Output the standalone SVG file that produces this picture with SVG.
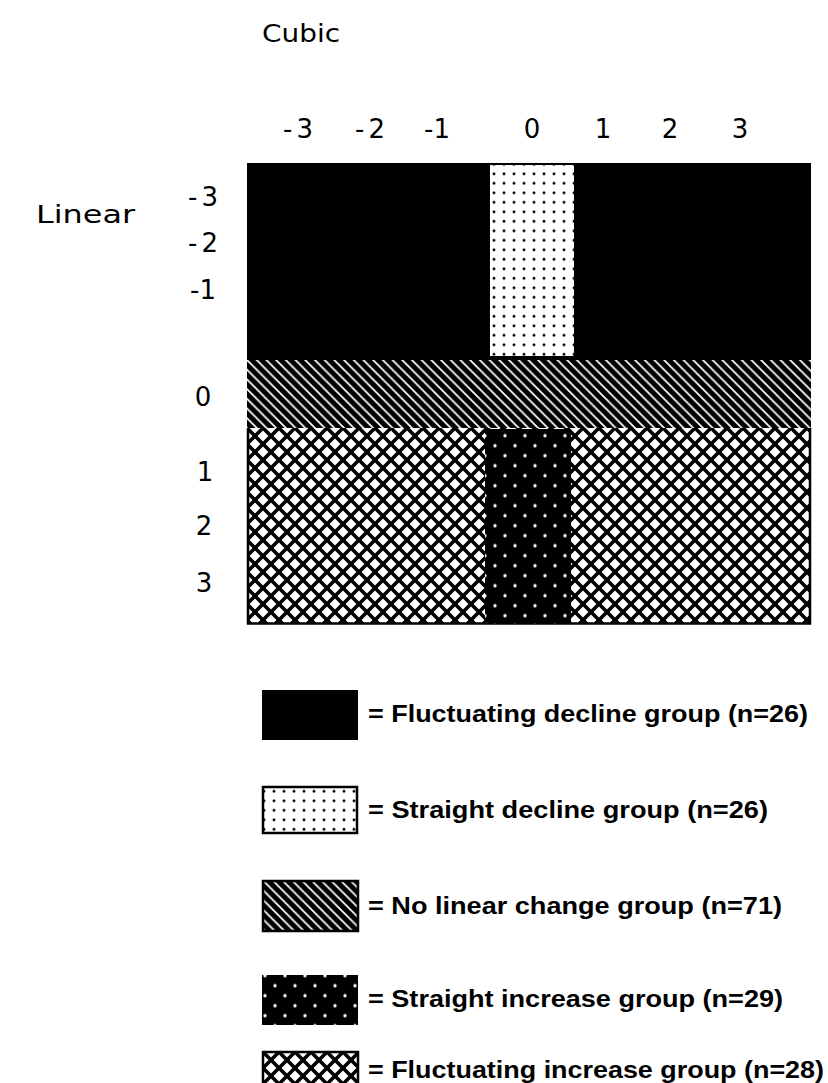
<svg xmlns="http://www.w3.org/2000/svg" width="828" height="1083" viewBox="0 0 828 1083">
  <style>
    .axis { font-family: "DejaVu Sans", "Liberation Sans", sans-serif; font-size: 25px; fill: #000; }
    .tick { font-family: "DejaVu Sans", "Liberation Sans", sans-serif; font-size: 26px; fill: #000; text-anchor: middle; }
    .key { font-family: "Liberation Sans", "DejaVu Sans", sans-serif; font-weight: bold; font-size: 23px; fill: #000; }
    .edge { fill: none; stroke: #000; stroke-width: 2.5; }
  </style>
  <defs>
    <!-- black dots on white -->
    <pattern id="dots" patternUnits="userSpaceOnUse" x="489" y="169" width="10" height="9.5">
      <rect width="10" height="9.5" fill="#fff"/>
      <circle cx="5" cy="4.75" r="1.5" fill="#000"/>
    </pattern>
    <!-- white dots on black, staggered -->
    <pattern id="wdots" patternUnits="userSpaceOnUse" x="490" y="430.7" width="20" height="20">
      <rect width="20" height="20" fill="#000"/>
      <circle cx="15" cy="5" r="1.7" fill="#fff"/>
      <circle cx="5" cy="15" r="1.7" fill="#fff"/>
    </pattern>
    <!-- thin white diagonals on black -->
    <pattern id="hatch" patternUnits="userSpaceOnUse" x="247" y="360" width="9.7" height="9.7">
      <rect width="9.7" height="9.7" fill="#000"/>
      <path d="M-4.85,-4.85 L14.55,14.55 M-9.7,0 L9.7,19.4 M0,-9.7 L19.4,9.7" stroke="#fff" stroke-width="1.7"/>
    </pattern>
    <!-- black diamond lattice on white -->
    <pattern id="cross" patternUnits="userSpaceOnUse" x="247" y="428" width="16" height="16">
      <rect width="16" height="16" fill="#fff"/>
      <path d="M-16,-16 L32,32 M-16,0 L16,32 M0,-16 L32,16 M-16,16 L16,-16 M0,32 L32,0 M-16,32 L32,-16" stroke="#000" stroke-width="3.6"/>
    </pattern>
  </defs>

  <rect width="828" height="1083" fill="#fff"/>

  <!-- axis titles -->
  <text class="axis" x="262" y="42" textLength="78" lengthAdjust="spacingAndGlyphs">Cubic</text>
  <text class="axis" x="36" y="223" textLength="99" lengthAdjust="spacingAndGlyphs">Linear</text>

  <!-- cubic ticks -->
  <g id="cubic-ticks">
    <text class="tick" x="298" y="138" textLength="30" lengthAdjust="spacing">-3</text>
    <text class="tick" x="370" y="138" textLength="30" lengthAdjust="spacing">-2</text>
    <text class="tick" x="437" y="138" textLength="26" lengthAdjust="spacing">-1</text>
    <text class="tick" x="532" y="138">0</text>
    <text class="tick" x="603" y="138">1</text>
    <text class="tick" x="670" y="138">2</text>
    <text class="tick" x="740" y="138">3</text>
  </g>

  <!-- linear ticks -->
  <g id="linear-ticks">
    <text class="tick" x="203" y="206" textLength="30" lengthAdjust="spacing">-3</text>
    <text class="tick" x="203" y="252" textLength="30" lengthAdjust="spacing">-2</text>
    <text class="tick" x="203" y="299" textLength="26" lengthAdjust="spacing">-1</text>
    <text class="tick" x="203" y="406">0</text>
    <text class="tick" x="205" y="481">1</text>
    <text class="tick" x="204" y="535">2</text>
    <text class="tick" x="204" y="592">3</text>
  </g>

  <!-- classification grid -->
  <g id="grid">
    <g id="fluctuating-decline">
      <rect x="247" y="163" width="564" height="197" fill="#000"/>
    </g>
    <g id="straight-decline">
      <rect x="490" y="165" width="84" height="191" fill="url(#dots)"/>
    </g>
    <g id="no-linear-change">
      <rect x="247" y="360" width="564" height="68" fill="url(#hatch)"/>
    </g>
    <g id="fluctuating-increase">
      <rect x="247" y="428" width="564" height="196" fill="url(#cross)"/>
      <path class="edge" d="M248,428 V623.5 H810 V428"/>
    </g>
    <g id="straight-increase">
      <rect x="485" y="429" width="86" height="195" fill="url(#wdots)"/>
    </g>
  </g>

  <!-- key -->
  <g id="key-fluctuating-decline">
    <rect x="262" y="690" width="96" height="50" fill="#000"/>
    <text class="key" x="368" y="722" textLength="440" lengthAdjust="spacingAndGlyphs">= Fluctuating decline group (n=26)</text>
  </g>
  <g id="key-straight-decline">
    <rect x="263" y="787" width="94" height="46" fill="url(#dots)"/>
    <rect x="263" y="787" width="94" height="46" class="edge"/>
    <text class="key" x="368" y="818" textLength="400" lengthAdjust="spacingAndGlyphs">= Straight decline group (n=26)</text>
  </g>
  <g id="key-no-linear-change">
    <rect x="263" y="881" width="95" height="50" fill="url(#hatch)"/>
    <rect x="263" y="881" width="95" height="50" class="edge"/>
    <text class="key" x="368" y="914" textLength="414" lengthAdjust="spacingAndGlyphs">= No linear change group (n=71)</text>
  </g>
  <g id="key-straight-increase">
    <rect x="262" y="975" width="96" height="50" fill="url(#wdots)"/>
    <text class="key" x="368" y="1007" textLength="415" lengthAdjust="spacingAndGlyphs">= Straight increase group (n=29)</text>
  </g>
  <g id="key-fluctuating-increase">
    <rect x="263" y="1052" width="95" height="40" fill="url(#cross)"/>
    <rect x="263" y="1052" width="95" height="40" class="edge"/>
    <text class="key" x="368" y="1078" font-size="22" textLength="456" lengthAdjust="spacingAndGlyphs">= Fluctuating increase group (n=28)</text>
  </g>
</svg>
